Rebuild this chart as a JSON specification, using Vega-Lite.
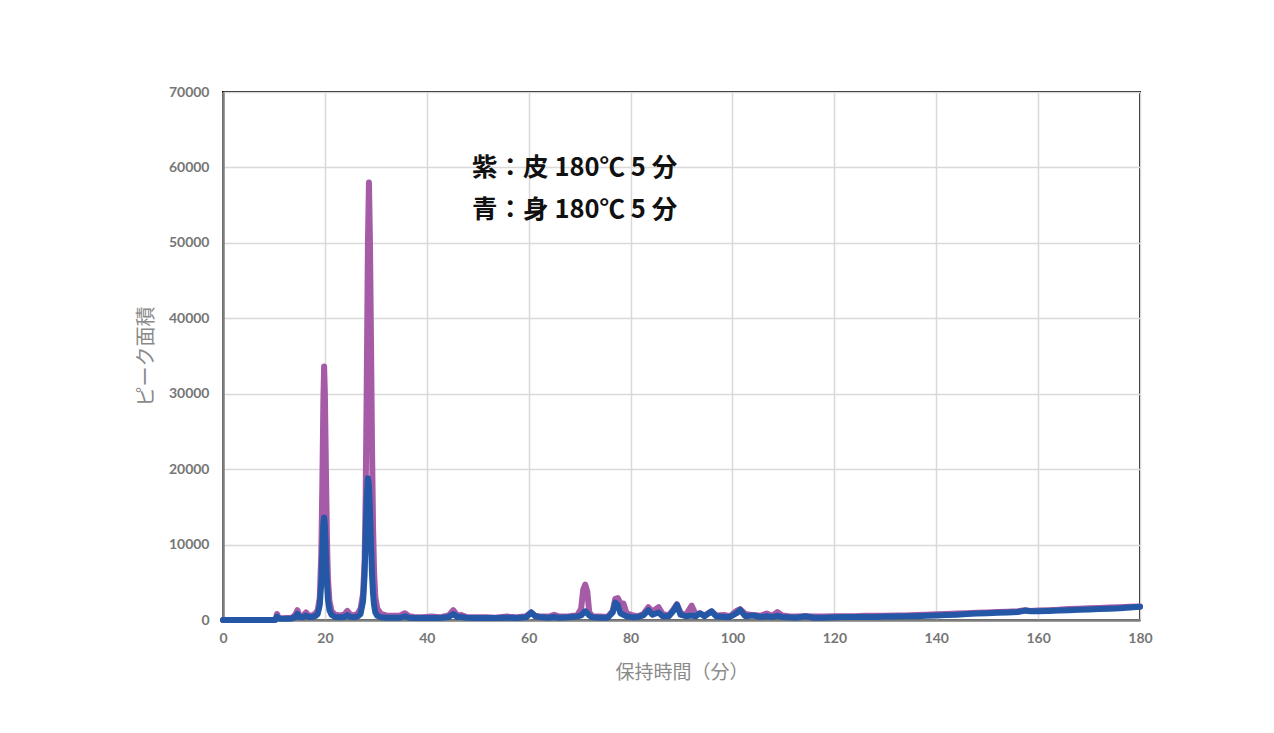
{
  "$schema": "https://vega.github.io/schema/vega-lite/v6.json",
  "width": 917,
  "height": 528,
  "autosize": {"type": "none"},
  "padding": {"left": 223, "top": 92, "right": 134, "bottom": 113},
  "background": "white",
  "config": {
    "view": {"stroke": "#111111", "strokeWidth": 2},
    "axis": {
      "grid": true,
      "gridColor": "#d9d9d9",
      "gridWidth": 1.5,
      "ticks": false,
      "labelFlush": false,
      "domainColor": "#7f7f7f",
      "domainWidth": 2.5,
      "labelFont": "Lato",
      "labelFontWeight": "bold",
      "labelFontSize": 14,
      "labelColor": "#767676",
      "titleFont": "Noto Sans CJK JP",
      "titleFontWeight": "normal",
      "titleColor": "#8a8a8a"
    }
  },
  "data": {
    "values": [
      {"t": 0, "p": 0, "b": 0},
      {"t": 2, "p": 0, "b": 0},
      {"t": 4, "p": 0, "b": 0},
      {"t": 6, "p": 0, "b": 0},
      {"t": 8, "p": 0, "b": 0},
      {"t": 10, "p": 0, "b": 0},
      {"t": 10.3, "p": 50, "b": 30},
      {"t": 10.6, "p": 800, "b": 450},
      {"t": 10.9, "p": 300, "b": 200},
      {"t": 11.5, "p": 200, "b": 150},
      {"t": 12.5, "p": 250, "b": 150},
      {"t": 13.5, "p": 300, "b": 200},
      {"t": 14.2, "p": 700, "b": 400},
      {"t": 14.6, "p": 1300, "b": 800},
      {"t": 15.0, "p": 600, "b": 400},
      {"t": 15.6, "p": 500, "b": 350},
      {"t": 16.3, "p": 1000, "b": 600},
      {"t": 16.8, "p": 600, "b": 400},
      {"t": 17.5, "p": 600, "b": 400},
      {"t": 18.2, "p": 900, "b": 550},
      {"t": 18.6, "p": 1300, "b": 800},
      {"t": 19.0, "p": 3000, "b": 2000},
      {"t": 19.3, "p": 9000, "b": 5000},
      {"t": 19.5, "p": 18000, "b": 9000},
      {"t": 19.7, "p": 29000, "b": 12800},
      {"t": 19.85, "p": 33600, "b": 13600},
      {"t": 20.0, "p": 30000, "b": 12500},
      {"t": 20.2, "p": 20000, "b": 8500},
      {"t": 20.4, "p": 11000, "b": 5000},
      {"t": 20.6, "p": 5500, "b": 2700},
      {"t": 20.9, "p": 2500, "b": 1300},
      {"t": 21.3, "p": 1200, "b": 700},
      {"t": 22.0, "p": 700, "b": 400},
      {"t": 23.0, "p": 600, "b": 350},
      {"t": 23.8, "p": 700, "b": 400},
      {"t": 24.4, "p": 1200, "b": 650},
      {"t": 25.0, "p": 700, "b": 400},
      {"t": 25.8, "p": 600, "b": 350},
      {"t": 26.5, "p": 900, "b": 500},
      {"t": 27.0, "p": 1500, "b": 800},
      {"t": 27.5, "p": 3500, "b": 2500},
      {"t": 27.8, "p": 8000, "b": 6000},
      {"t": 28.0, "p": 16000, "b": 11000},
      {"t": 28.2, "p": 30000, "b": 16000},
      {"t": 28.45, "p": 50000, "b": 18800},
      {"t": 28.65, "p": 58000, "b": 17800},
      {"t": 28.85, "p": 50000, "b": 14500},
      {"t": 29.05, "p": 37000, "b": 10000},
      {"t": 29.25, "p": 23000, "b": 6000},
      {"t": 29.45, "p": 12500, "b": 3500},
      {"t": 29.65, "p": 6500, "b": 2000},
      {"t": 29.9, "p": 3000, "b": 1000},
      {"t": 30.3, "p": 1500, "b": 550},
      {"t": 31.0, "p": 800, "b": 350},
      {"t": 32.0, "p": 600, "b": 300},
      {"t": 33.5, "p": 550, "b": 300},
      {"t": 34.8, "p": 600, "b": 300},
      {"t": 35.7, "p": 900, "b": 500},
      {"t": 36.5, "p": 500, "b": 300},
      {"t": 37.5, "p": 400, "b": 250},
      {"t": 39.0, "p": 350, "b": 250},
      {"t": 41.0, "p": 450, "b": 250},
      {"t": 42.5, "p": 350, "b": 250},
      {"t": 44.3, "p": 600, "b": 400},
      {"t": 45.2, "p": 1300, "b": 800},
      {"t": 46.0, "p": 600, "b": 400},
      {"t": 46.8, "p": 650, "b": 400},
      {"t": 47.8, "p": 400, "b": 300},
      {"t": 49.5, "p": 350, "b": 250},
      {"t": 51.7, "p": 350, "b": 250},
      {"t": 53.5, "p": 300, "b": 250},
      {"t": 55.7, "p": 450, "b": 300},
      {"t": 57.5, "p": 350, "b": 250},
      {"t": 59.5, "p": 500, "b": 350},
      {"t": 60.5, "p": 1000, "b": 1000},
      {"t": 61.3, "p": 550, "b": 500},
      {"t": 62.5, "p": 450, "b": 350},
      {"t": 64.0, "p": 450, "b": 300},
      {"t": 65.0, "p": 700, "b": 400},
      {"t": 66.0, "p": 450, "b": 300},
      {"t": 67.5, "p": 450, "b": 350},
      {"t": 68.5, "p": 550, "b": 400},
      {"t": 69.5, "p": 600, "b": 450},
      {"t": 70.3, "p": 1500, "b": 600},
      {"t": 70.7, "p": 4000, "b": 900},
      {"t": 71.1, "p": 4700, "b": 1150},
      {"t": 71.5, "p": 3800, "b": 900},
      {"t": 71.9, "p": 1000, "b": 600},
      {"t": 72.5, "p": 500, "b": 350},
      {"t": 74.0, "p": 450, "b": 300},
      {"t": 75.5, "p": 400, "b": 300},
      {"t": 76.5, "p": 1200, "b": 1000},
      {"t": 77.0, "p": 2800, "b": 2300},
      {"t": 77.5, "p": 2900, "b": 2000},
      {"t": 78.0, "p": 2200, "b": 900},
      {"t": 78.6, "p": 2200, "b": 700},
      {"t": 79.2, "p": 900, "b": 500},
      {"t": 80.5, "p": 600, "b": 350},
      {"t": 81.5, "p": 500, "b": 400},
      {"t": 82.5, "p": 800, "b": 600},
      {"t": 83.5, "p": 1700, "b": 1300},
      {"t": 84.3, "p": 1100, "b": 700},
      {"t": 85.5, "p": 1700, "b": 1000},
      {"t": 86.3, "p": 800, "b": 500},
      {"t": 87.5, "p": 600, "b": 500},
      {"t": 88.5, "p": 1500, "b": 1300},
      {"t": 89.1, "p": 2100, "b": 2000},
      {"t": 89.8, "p": 1000, "b": 700},
      {"t": 90.8, "p": 600, "b": 500},
      {"t": 92.0, "p": 1900, "b": 600},
      {"t": 92.8, "p": 700, "b": 500},
      {"t": 93.6, "p": 900, "b": 900},
      {"t": 94.5, "p": 600, "b": 500},
      {"t": 95.9, "p": 1150, "b": 1150},
      {"t": 96.8, "p": 600, "b": 500},
      {"t": 98.5, "p": 650, "b": 400},
      {"t": 99.5, "p": 500, "b": 400},
      {"t": 100.8, "p": 1200, "b": 900},
      {"t": 101.5, "p": 1450, "b": 1350},
      {"t": 102.5, "p": 800, "b": 500},
      {"t": 104.1, "p": 650, "b": 600},
      {"t": 105.5, "p": 550, "b": 400},
      {"t": 106.7, "p": 850, "b": 500},
      {"t": 107.8, "p": 550, "b": 400},
      {"t": 108.8, "p": 1050, "b": 550},
      {"t": 109.8, "p": 600, "b": 400},
      {"t": 111, "p": 500, "b": 350},
      {"t": 112.5, "p": 450, "b": 300},
      {"t": 114.3, "p": 500, "b": 500},
      {"t": 116, "p": 450, "b": 300},
      {"t": 118, "p": 450, "b": 300},
      {"t": 120, "p": 500, "b": 350},
      {"t": 122, "p": 500, "b": 400},
      {"t": 124, "p": 500, "b": 400},
      {"t": 126, "p": 550, "b": 400},
      {"t": 128, "p": 550, "b": 400},
      {"t": 130, "p": 550, "b": 450},
      {"t": 132, "p": 600, "b": 450},
      {"t": 134, "p": 600, "b": 500},
      {"t": 136, "p": 650, "b": 500},
      {"t": 138, "p": 700, "b": 550},
      {"t": 140, "p": 750, "b": 600},
      {"t": 142, "p": 800, "b": 650},
      {"t": 144, "p": 850, "b": 700},
      {"t": 146, "p": 900, "b": 800},
      {"t": 148, "p": 950, "b": 850},
      {"t": 150, "p": 1000, "b": 900},
      {"t": 152, "p": 1050, "b": 950},
      {"t": 154, "p": 1100, "b": 1000},
      {"t": 156, "p": 1150, "b": 1050},
      {"t": 157.4, "p": 1300, "b": 1250},
      {"t": 158.5, "p": 1200, "b": 1150},
      {"t": 160, "p": 1250, "b": 1150},
      {"t": 162, "p": 1300, "b": 1200},
      {"t": 164, "p": 1350, "b": 1250},
      {"t": 166, "p": 1450, "b": 1300},
      {"t": 168, "p": 1500, "b": 1350},
      {"t": 170, "p": 1550, "b": 1400},
      {"t": 172, "p": 1600, "b": 1450},
      {"t": 174, "p": 1650, "b": 1500},
      {"t": 176, "p": 1700, "b": 1550},
      {"t": 178, "p": 1750, "b": 1650},
      {"t": 180, "p": 1800, "b": 1750}
    ]
  },
  "encoding": {
    "x": {
      "field": "t",
      "type": "quantitative",
      "scale": {"domain": [0, 180], "nice": false},
      "axis": {
        "title": "保持時間（分）",
        "values": [0, 20, 40, 60, 80, 100, 120, 140, 160, 180],
        "labelPadding": 11,
        "titleFontSize": 19,
        "titlePadding": 18
      }
    }
  },
  "layer": [
    {
      "mark": {"type": "line", "color": "#A65BA6", "strokeWidth": 6, "strokeJoin": "round", "strokeCap": "round"},
      "encoding": {
        "y": {
          "field": "p",
          "type": "quantitative",
          "scale": {"domain": [0, 70000], "nice": false},
          "axis": {
            "title": "ピーク面積",
            "values": [0, 10000, 20000, 30000, 40000, 50000, 60000, 70000],
            "format": "d",
            "labelPadding": 14,
            "titleFontSize": 20,
            "titlePadding": 12
          }
        }
      }
    },
    {
      "mark": {"type": "line", "color": "#2457A6", "strokeWidth": 6, "strokeJoin": "round", "strokeCap": "round"},
      "encoding": {
        "y": {"field": "b", "type": "quantitative"}
      }
    },
    {
      "data": {
        "values": [
          {"t": 48.9, "v": 59900, "label": "紫：皮 180℃ 5 分"},
          {"t": 48.9, "v": 54350, "label": "青：身 180℃ 5 分"}
        ]
      },
      "mark": {"type": "text", "align": "left", "baseline": "middle", "fontSize": 25.5, "fontWeight": "bold", "font": "Noto Sans CJK JP", "color": "#111111"},
      "encoding": {
        "x": {"field": "t", "type": "quantitative"},
        "y": {"field": "v", "type": "quantitative"},
        "text": {"field": "label"}
      }
    }
  ]
}
